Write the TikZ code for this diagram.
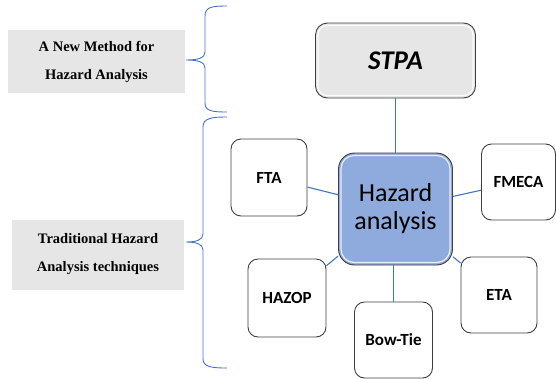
\documentclass[tikz,border=0pt]{standalone}
\usepackage{fontspec}
\usetikzlibrary{calc}
\setmainfont{Liberation Serif}
\newfontfamily\calfont{Carlito}
\definecolor{linkblue}{HTML}{4472C4}
\definecolor{hazfill}{HTML}{8FAADC}
\definecolor{boxgray}{HTML}{E6E6E6}
\definecolor{edgegray}{HTML}{3F3F3F}
\begin{document}
\begin{tikzpicture}[x=1pt,y=-1pt,
  labelbox/.style={fill=boxgray, draw=none, align=center, inner sep=0pt,
    font=\bfseries\fontsize{14.5}{28}\selectfont},
  techbox/.style={draw=edgegray, line width=0.9pt, fill=white, rounded corners=10pt,
    minimum width=76pt, minimum height=77pt, inner sep=0pt,
    font=\calfont\bfseries\fontsize{17}{20}\selectfont},
  link/.style={color=linkblue, line width=1.1pt},
  bracestyle/.style={color=linkblue, line width=0.9pt}
  ]
\useasboundingbox (0,0) rectangle (556,378);
% left labels
\node[labelbox, minimum width=177pt, minimum height=63pt] (newm) at (96.5,61.5)
  {A New Method for\\Hazard Analysis};
\node[labelbox, minimum width=172pt, minimum height=70pt] (trad) at (98,254.5)
  {Traditional Hazard\\Analysis techniques};
% braces
\draw[bracestyle] (227,6) .. controls (212,6) and (205,7) .. (205,16)
  -- (205,52) .. controls (205,58) and (198,60) .. (186,60)
  .. controls (198,60) and (205,62) .. (205,68)
  -- (205,103) .. controls (205,111) and (212,112) .. (227,112);
\draw[bracestyle] (227,117) .. controls (212,117) and (203,118) .. (203,127)
  -- (203,234) .. controls (203,240) and (196,242) .. (186,242)
  .. controls (196,242) and (203,244) .. (203,250)
  -- (203,359) .. controls (203,367) and (212,368) .. (227,368);
% STPA
\node[draw=edgegray, line width=0.9pt, fill=boxgray, rounded corners=12pt,
  minimum width=160pt, minimum height=75pt, inner sep=0pt,
  font=\calfont\bfseries\itshape\fontsize{27}{30}\selectfont] (stpa) at (395.5,60.5) {STPA};
\draw[white, line width=1.2pt, rounded corners=9pt, opacity=0.9]
  ($(stpa.south west)+(3,-3)$) rectangle ($(stpa.north east)+(-3,3)$);
% Hazard analysis
\node[draw=edgegray, line width=0.9pt, fill=hazfill, rounded corners=16pt,
  minimum width=114pt, minimum height=112pt, inner sep=0pt, align=center,
  font=\calfont\fontsize{26}{28}\selectfont] (haz) at (395.5,209) {Hazard\\analysis};
\draw[white, line width=1.2pt, rounded corners=13pt, opacity=0.8]
  ($(haz.south west)+(3,-3)$) rectangle ($(haz.north east)+(-3,3)$);
% techniques
\node[techbox] (fta) at (269,177.5) {FTA};
\node[techbox, minimum width=74pt, minimum height=76pt] (fmeca) at (518.5,182) {FMECA};
\node[techbox, minimum width=78pt, minimum height=78pt] (hazop) at (287,298) {HAZOP};
\node[techbox, minimum width=78pt, minimum height=76pt] (bowtie) at (393.5,340) {Bow-Tie};
\node[techbox, minimum width=76pt, minimum height=76pt] (eta) at (499,295) {ETA};
% links
\draw[link] (stpa) -- (haz);
\draw[link] (fta) -- (haz);
\draw[link] (fmeca) -- (haz);
\draw[link] (hazop) -- (haz);
\draw[link] (eta) -- (haz);
\draw[link] (bowtie.north) -- (bowtie.north |- haz.south);
\end{tikzpicture}
\end{document}
